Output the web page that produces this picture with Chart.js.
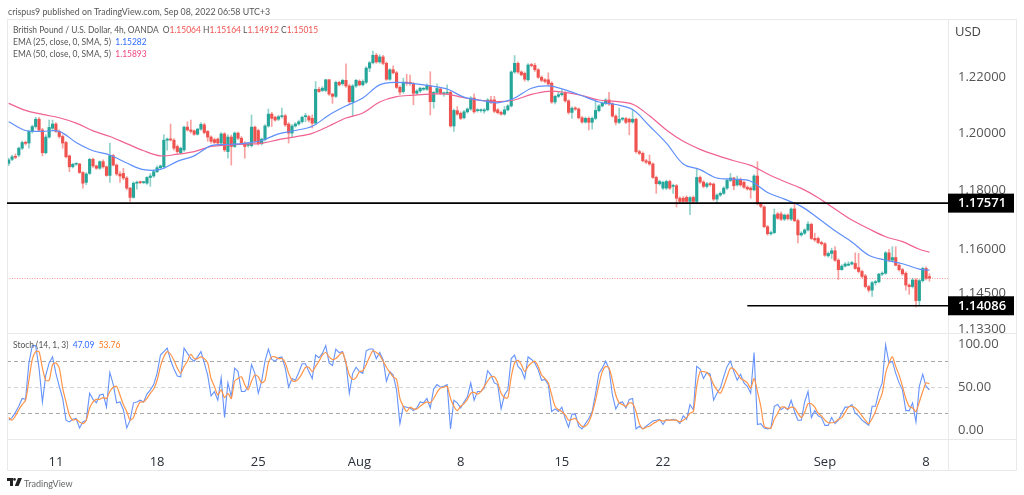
<!DOCTYPE html>
<html><head><meta charset="utf-8">
<script src="https://cdn.jsdelivr.net/npm/chart.js@4"></script>
<style>
html,body{margin:0;padding:0;background:#fff;width:1024px;height:495px;overflow:hidden}
#c{position:absolute;left:0;top:0}
.t{position:absolute;white-space:nowrap;font-family:Lato,sans-serif;color:#555;font-size:9.5px;line-height:12px;transform-origin:left center;transform:scaleX(.89)}
</style></head><body>
<canvas id="c" width="1024" height="495"></canvas>
<div class="t" style="left:8px;top:5px;font-size:9.7px;transform:scaleX(.91)">crispus9 published on TradingView.com, Sep 08, 2022 06:58 UTC+3</div>
<div class="t" style="left:13px;top:24px">British Pound / U.S. Dollar, 4h, OANDA&nbsp; O<span style="color:#ef5350">1.15064</span> H<span style="color:#ef5350">1.15164</span> L<span style="color:#ef5350">1.14912</span> C<span style="color:#ef5350">1.15015</span></div>
<div class="t" style="left:13px;top:36px">EMA (25, close, 0, SMA, 5)&nbsp; <span style="color:#2f6bff">1.15282</span></div>
<div class="t" style="left:13px;top:48px">EMA (50, close, 0, SMA, 5)&nbsp; <span style="color:#f0487f">1.15893</span></div>
<div class="t" style="left:13px;top:339px">Stoch (14, 1, 3)&nbsp; <span style="color:#2f6bff">47.09</span>&nbsp; <span style="color:#ff7a1a">53.76</span></div>
<div class="t" style="left:955px;top:23px;font-family:'Open Sans',sans-serif;font-size:13px;line-height:16px;color:#444;transform:none">USD</div>
<svg style="position:absolute;left:7px;top:478px" width="15" height="9" viewBox="0 0 15 9"><path d="M0 0h6v8H3V3H0zM7.5 0a1.4 1.4 0 1 1 0 2.8 1.4 1.4 0 0 1 0-2.8zM11 0h4l-3.4 8H7.8z" fill="#222"/></svg>
<div class="t" style="left:24px;top:477px;font-size:9.8px;color:#666;transform:scaleX(.92)">TradingView</div>
<script>
const opens=[1.1895,1.1909,1.1918,1.1924,1.1948,1.1968,1.1966,1.2007,1.2024,1.2050,
1.2012,1.1932,1.1987,1.2018,1.2033,1.2007,1.1989,1.1968,1.1921,1.1883,
1.1892,1.1893,1.1863,1.1829,1.1860,1.1909,1.1886,1.1878,1.1901,1.1883,
1.1853,1.1922,1.1889,1.1858,1.1860,1.1844,1.1809,1.1777,1.1826,1.1830,
1.1828,1.1826,1.1846,1.1851,1.1866,1.1880,1.1883,1.1976,1.1979,1.1976,
1.1954,1.1932,1.1942,1.2022,1.2012,1.2009,1.1997,1.2015,1.2030,1.2007,
1.1987,1.1978,1.1980,1.1966,1.1998,1.1936,1.1987,1.1954,1.2001,1.1983,
1.1966,1.1958,1.1957,1.2022,1.2010,1.1964,1.1978,1.2026,1.2068,1.2057,
1.2050,1.2059,1.2062,1.2033,1.2001,1.2026,1.2033,1.2041,1.2059,1.2059,
1.2053,1.2036,1.2156,1.2152,1.2152,1.2190,1.2139,1.2131,1.2181,1.2176,
1.2188,1.2168,1.2112,1.2168,1.2185,1.2172,1.2181,1.2232,1.2251,1.2278,
1.2254,1.2272,1.2249,1.2192,1.2226,1.2215,1.2163,1.2148,1.2181,1.2181,
1.2176,1.2142,1.2150,1.2156,1.2156,1.2168,1.2112,1.2145,1.2157,1.2140,
1.2142,1.2145,1.2026,1.2080,1.2071,1.2055,1.2076,1.2086,1.2125,1.2080,
1.2080,1.2079,1.2083,1.2118,1.2118,1.2083,1.2074,1.2068,1.2083,1.2097,
1.2218,1.2249,1.2218,1.2213,1.2190,1.2243,1.2242,1.2226,1.2199,1.2190,
1.2190,1.2178,1.2111,1.2131,1.2137,1.2142,1.2115,1.2074,1.2089,1.2086,
1.2055,1.2040,1.2053,1.2039,1.2053,1.2080,1.2097,1.2106,1.2118,1.2104,
1.2061,1.2039,1.2050,1.2052,1.2050,1.2040,1.2050,1.1936,1.1930,1.1904,
1.1901,1.1893,1.1846,1.1824,1.1809,1.1809,1.1832,1.1815,1.1817,1.1774,
1.1774,1.1777,1.1763,1.1777,1.1763,1.1846,1.1830,1.1815,1.1824,1.1823,
1.1771,1.1785,1.1791,1.1809,1.1836,1.1844,1.1820,1.1836,1.1829,1.1812,
1.1809,1.1803,1.1851,1.1755,1.1744,1.1676,1.1652,1.1656,1.1720,1.1720,
1.1702,1.1716,1.1702,1.1737,1.1697,1.1648,1.1654,1.1665,1.1684,1.1636,
1.1636,1.1622,1.1618,1.1577,1.1585,1.1594,1.1562,1.1530,1.1542,1.1545,
1.1549,1.1551,1.1537,1.1524,1.1509,1.1473,1.1461,1.1486,1.1489,1.1515,
1.1518,1.1587,1.1562,1.1571,1.1545,1.1530,1.1518,1.1478,1.1473,1.1495,
1.1426,1.1493,1.1534,1.15064];
const highs=[1.1913,1.1924,1.1928,1.1952,1.1973,1.1973,1.2012,1.2029,1.2057,1.2057,
1.2018,1.1995,1.2047,1.2047,1.2038,1.2012,1.1995,1.1972,1.1924,1.1895,
1.1897,1.1895,1.1866,1.1863,1.1913,1.1913,1.1889,1.1904,1.1907,1.1886,
1.1966,1.1926,1.1893,1.1866,1.1878,1.1849,1.1812,1.1831,1.1833,1.1833,
1.1833,1.1849,1.1860,1.1872,1.1886,1.1889,1.1995,1.1984,1.2033,1.1982,
1.1959,1.1952,1.2026,1.2041,1.2047,1.2012,1.2018,1.2038,1.2036,1.2010,
1.1991,1.1983,1.1984,1.2003,1.2003,1.1995,1.1994,1.2005,1.2005,1.1989,
1.1971,1.1968,1.2065,1.2026,1.2015,1.1984,1.2031,1.2086,1.2074,1.2061,
1.2064,1.2089,1.2067,1.2038,1.2031,1.2038,1.2047,1.2061,1.2071,1.2064,
1.2065,1.2184,1.2163,1.2166,1.2192,1.2192,1.2142,1.2185,1.2185,1.2192,
1.2247,1.2173,1.2173,1.2192,1.2190,1.2190,1.2237,1.2256,1.2293,1.2285,
1.2280,1.2278,1.2254,1.2230,1.2240,1.2220,1.2168,1.2196,1.2210,1.2207,
1.2181,1.2155,1.2164,1.2163,1.2176,1.2219,1.2149,1.2176,1.2163,1.2147,
1.2172,1.2149,1.2086,1.2095,1.2076,1.2081,1.2090,1.2130,1.2140,1.2088,
1.2087,1.2088,1.2123,1.2131,1.2131,1.2088,1.2079,1.2095,1.2102,1.2222,
1.2277,1.2254,1.2222,1.2218,1.2248,1.2249,1.2249,1.2230,1.2204,1.2194,
1.2215,1.2183,1.2135,1.2148,1.2154,1.2147,1.2119,1.2094,1.2094,1.2090,
1.2060,1.2058,1.2058,1.2058,1.2118,1.2102,1.2111,1.2123,1.2145,1.2109,
1.2066,1.2089,1.2057,1.2057,1.2054,1.2083,1.2054,1.1941,1.1935,1.1909,
1.1924,1.1897,1.1851,1.1837,1.1833,1.1837,1.1837,1.1823,1.1822,1.1779,
1.1780,1.1782,1.1781,1.1782,1.1878,1.1851,1.1835,1.1829,1.1829,1.1827,
1.1789,1.1796,1.1814,1.1840,1.1860,1.1847,1.1851,1.1844,1.1833,1.1817,
1.1814,1.1856,1.1901,1.1760,1.1748,1.1681,1.1661,1.1737,1.1725,1.1727,
1.1720,1.1720,1.1741,1.1760,1.1702,1.1659,1.1669,1.1694,1.1689,1.1654,
1.1641,1.1627,1.1622,1.1590,1.1603,1.1608,1.1567,1.1547,1.1554,1.1557,
1.1558,1.1587,1.1585,1.1529,1.1514,1.1477,1.1491,1.1494,1.1518,1.1523,
1.1592,1.1599,1.1608,1.1608,1.1550,1.1535,1.1523,1.1482,1.1501,1.1500,
1.1497,1.1539,1.1540,1.15164];
const lows=[1.1887,1.1904,1.1911,1.1918,1.1943,1.1959,1.1948,1.2001,1.2018,1.2007,
1.1921,1.1928,1.1983,1.2012,1.2003,1.1983,1.1948,1.1914,1.1866,1.1879,
1.1888,1.1860,1.1809,1.1821,1.1856,1.1881,1.1874,1.1874,1.1878,1.1850,
1.1829,1.1886,1.1853,1.1829,1.1838,1.1803,1.1763,1.1774,1.1805,1.1824,
1.1824,1.1822,1.1815,1.1846,1.1863,1.1876,1.1879,1.1941,1.1973,1.1941,
1.1930,1.1928,1.1937,1.2008,1.2001,1.1993,1.1994,1.2010,1.1998,1.1972,
1.1966,1.1964,1.1961,1.1961,1.1936,1.1913,1.1889,1.1950,1.1978,1.1961,
1.1913,1.1952,1.1952,1.1966,1.1959,1.1959,1.1973,1.2022,1.2024,1.2043,
1.2045,1.2054,1.2024,1.1966,1.1987,1.2022,1.2029,1.2036,1.2041,1.2040,
1.2019,1.2031,1.2145,1.2147,1.2147,1.2134,1.2106,1.2126,1.2168,1.2170,
1.2163,1.2106,1.2061,1.2163,1.2168,1.2168,1.2176,1.2219,1.2247,1.2249,
1.2249,1.2244,1.2188,1.2188,1.2211,1.2159,1.2137,1.2142,1.2170,1.2170,
1.2101,1.2138,1.2145,1.2152,1.2152,1.2065,1.2089,1.2140,1.2137,1.2131,
1.2138,1.2022,1.2007,1.2064,1.2048,1.2051,1.2071,1.2081,1.2071,1.2075,
1.2075,1.2071,1.2079,1.2105,1.2073,1.2068,1.2064,1.2064,1.2079,1.2093,
1.2213,1.2213,1.2204,1.2185,1.2185,1.2236,1.2220,1.2195,1.2183,1.2179,
1.2170,1.2106,1.2104,1.2126,1.2132,1.2110,1.2068,1.2053,1.2081,1.2051,
1.2036,1.2036,1.2012,1.2015,1.2048,1.2076,1.2093,1.2102,1.2099,1.2057,
1.2030,1.2034,1.2045,1.2034,1.1995,1.2036,1.1931,1.1925,1.1900,1.1894,
1.1888,1.1843,1.1791,1.1819,1.1804,1.1804,1.1804,1.1791,1.1744,1.1755,
1.1759,1.1759,1.1717,1.1755,1.1755,1.1825,1.1810,1.1810,1.1816,1.1766,
1.1758,1.1780,1.1787,1.1804,1.1831,1.1803,1.1816,1.1815,1.1808,1.1802,
1.1774,1.1799,1.1751,1.1741,1.1673,1.1647,1.1647,1.1652,1.1701,1.1697,
1.1697,1.1699,1.1697,1.1693,1.1621,1.1643,1.1649,1.1661,1.1632,1.1626,
1.1618,1.1613,1.1575,1.1572,1.1568,1.1558,1.1497,1.1528,1.1539,1.1543,
1.1546,1.1531,1.1519,1.1502,1.1468,1.1455,1.1440,1.1478,1.1485,1.1510,
1.1514,1.1558,1.1558,1.1543,1.1525,1.1511,1.1461,1.1447,1.1468,1.1405,
1.1409,1.1488,1.1495,1.14912];
const closes=[1.1907,1.1918,1.1916,1.1948,1.1968,1.1965,1.2007,1.2024,1.2050,1.2012,
1.1932,1.1987,1.2021,1.2033,1.2007,1.1989,1.1966,1.1918,1.1883,1.1892,
1.1894,1.1863,1.1826,1.1858,1.1909,1.1886,1.1878,1.1901,1.1883,1.1853,
1.1922,1.1889,1.1858,1.1851,1.1844,1.1809,1.1777,1.1826,1.1829,1.1828,
1.1830,1.1846,1.1851,1.1866,1.1880,1.1886,1.1976,1.1980,1.1977,1.1948,
1.1936,1.1948,1.2022,1.2012,1.2007,1.1997,1.2015,1.2032,1.2003,1.1987,
1.1972,1.1968,1.1966,1.1998,1.1942,1.1987,1.1954,1.2001,1.1983,1.1966,
1.1954,1.1964,1.2022,1.1972,1.1964,1.1980,1.2026,1.2068,1.2053,1.2047,
1.2059,1.2062,1.2030,1.2001,1.2026,1.2033,1.2041,1.2057,1.2061,1.2047,
1.2036,1.2156,1.2148,1.2160,1.2190,1.2139,1.2131,1.2181,1.2172,1.2188,
1.2168,1.2112,1.2168,1.2188,1.2172,1.2184,1.2232,1.2251,1.2278,1.2254,
1.2272,1.2249,1.2192,1.2226,1.2215,1.2163,1.2146,1.2182,1.2178,1.2176,
1.2142,1.2150,1.2160,1.2157,1.2168,1.2112,1.2145,1.2159,1.2142,1.2142,
1.2145,1.2026,1.2081,1.2068,1.2053,1.2076,1.2086,1.2125,1.2076,1.2083,
1.2082,1.2083,1.2118,1.2110,1.2078,1.2073,1.2068,1.2083,1.2097,1.2218,
1.2249,1.2218,1.2208,1.2192,1.2243,1.2241,1.2226,1.2199,1.2188,1.2184,
1.2175,1.2111,1.2131,1.2137,1.2142,1.2115,1.2074,1.2089,1.2086,1.2055,
1.2040,1.2053,1.2039,1.2053,1.2081,1.2097,1.2106,1.2118,1.2104,1.2061,
1.2039,1.2050,1.2052,1.2039,1.2040,1.2050,1.1936,1.1930,1.1904,1.1899,
1.1893,1.1846,1.1824,1.1832,1.1829,1.1832,1.1809,1.1818,1.1774,1.1763,
1.1763,1.1763,1.1776,1.1763,1.1846,1.1830,1.1815,1.1824,1.1821,1.1771,
1.1785,1.1791,1.1809,1.1836,1.1844,1.1817,1.1836,1.1820,1.1812,1.1806,
1.1803,1.1851,1.1755,1.1746,1.1676,1.1652,1.1656,1.1717,1.1705,1.1702,
1.1716,1.1704,1.1737,1.1697,1.1648,1.1654,1.1665,1.1685,1.1636,1.1631,
1.1622,1.1618,1.1579,1.1585,1.1594,1.1562,1.1530,1.1542,1.1549,1.1549,
1.1554,1.1534,1.1524,1.1507,1.1473,1.1461,1.1486,1.1489,1.1515,1.1518,
1.1587,1.1562,1.1571,1.1545,1.1530,1.1516,1.1478,1.1473,1.1495,1.1426,
1.1493,1.1534,1.1501,1.15015];
// moving averages read once every 5 bars, last reading at the final bar
const ema25Read=[1.2041,1.2010,1.2007,1.2007,1.1968,1.1939,1.1924,1.1896,1.1873,1.1874,
1.1902,1.1921,1.1957,1.1961,1.1965,1.1975,1.1998,1.2010,1.2025,1.2065,
1.2097,1.2125,1.2172,1.2181,1.2176,1.2168,1.2157,1.2128,1.2117,1.2108,
1.2125,1.2160,1.2168,1.2154,1.2133,1.2111,1.2102,1.2084,1.2026,1.1966,
1.1893,1.1873,1.1844,1.1840,1.1833,1.1794,1.1771,1.1746,1.1705,1.1662,
1.1624,1.1579,1.1562,1.1550,1.1532,1.15282];
const ema50Read=[1.2106,1.2081,1.2067,1.2055,1.2036,1.2009,1.1989,1.1964,1.1939,1.1921,
1.1927,1.1936,1.1954,1.1959,1.1962,1.1965,1.1978,1.1988,1.2000,1.2026,
1.2054,1.2072,1.2111,1.2130,1.2135,1.2139,1.2139,1.2126,1.2117,1.2112,
1.2118,1.2138,1.2149,1.2145,1.2134,1.2118,1.2113,1.2103,1.2062,1.2012,
1.1972,1.1944,1.1923,1.1904,1.1888,1.1858,1.1832,1.1808,1.1776,1.1737,
1.1699,1.1669,1.1642,1.1625,1.1599,1.15893];
const stochK=[12,15,21,28,37,36,78,98,98,72,33,64,78,85,66,51,37,12,10,13,14,3,10,12,43,36,32,41,42,27,67,53,32,33,24,3,12,32,33,35,33,42,47,53,66,87,91,95,81,71,63,62,95,89,83,80,85,91,78,64,40,45,35,61,15,55,39,72,68,45,45,51,76,66,43,57,80,94,82,80,84,85,72,50,60,58,67,77,77,68,60,87,84,89,98,78,75,94,90,
91,78,43,66,73,68,66,92,94,94,83,90,82,57,68,64,47,8,28,27,26,23,26,33,32,37,26,48,53,50,51,53,2,35,32,26,33,39,55,35,45,45,49,69,64,55,53,25,41,47,83,87,74,70,60,85,82,78,70,58,59,53,22,25,22,27,14,4,19,19,5,2,8,14,22,43,66,72,80,71,41,25,32,33,26,36,37,2,5,2,5,8,11,12,13,7,13,12,13,12,8,
17,13,30,24,74,71,60,67,65,35,43,49,62,74,80,68,58,65,55,51,43,90,7,8,3,2,3,28,30,24,27,24,35,22,12,12,33,45,15,23,17,15,6,6,15,8,12,20,27,27,30,20,17,12,9,6,28,28,45,55,99,78,80,66,55,47,23,23,32,10,51,65,51,47.09];
const stochD=[15,12,17,24,30,35,58,82,91,91,72,58,58,76,78,72,49,33,18,12,13,10,8,12,26,33,36,36,38,37,45,50,51,41,30,22,12,15,26,33,33,37,43,48,58,74,85,91,88,81,72,66,74,80,88,83,83,85,83,78,60,51,41,47,38,43,37,57,60,62,53,47,57,64,62,55,58,78,85,85,83,83,78,66,58,57,60,66,73,73,68,74,80,87,90,85,82,83,87,
90,78,64,59,61,68,69,76,85,92,90,87,80,73,67,62,59,37,28,22,27,25,25,28,31,33,32,37,44,49,50,51,37,28,23,28,31,36,43,44,42,45,51,57,62,62,55,43,38,38,62,78,81,76,68,74,78,80,74,64,60,55,41,28,24,22,18,12,13,14,9,5,5,10,20,35,53,68,74,72,58,41,32,30,28,32,31,22,8,2,4,5,8,10,12,11,12,12,12,12,10,
12,15,20,22,51,68,68,67,62,53,47,43,51,62,72,71,66,60,58,55,49,60,45,28,5,3,3,13,20,27,27,25,27,26,20,15,21,31,31,27,20,17,12,9,9,10,13,15,21,27,28,26,22,17,12,8,14,22,33,43,66,78,85,74,64,51,37,28,26,22,33,45,55,53.76];
const readStep=5;
const priceTicks=[1.22,1.20,1.18,1.16,1.145,1.133];
const stochTicks=[100,50,0];
const stochBands=[80,50,20];
const levelMajor=1.17571, levelSupport=1.14086, lastPrice=1.15015;
const supportStartBar=219;
const dateLabels=['11','18','25','Aug','8','15','22','Sep','8'];
const dateBars=[14,44,74,104,134,164,194,242,272];
const boldDates=['Aug','Sep'];
const barCount=279;

const categories=Array.from({length:barCount},(_,i)=>{const k=dateBars.indexOf(i);return k>=0?dateLabels[k]:'';});
const lastBar=opens.length-1;
const sparse=(read)=>{const a=new Array(opens.length).fill(null);read.forEach((v,k)=>{a[k===read.length-1?lastBar:k*readStep]=v;});return a;};
const GREEN='#26a69a',RED='#ef5350';
const up=opens.map((o,i)=>closes[i]>=o);
const FONT='"Open Sans",sans-serif';

const framePlugin={id:'frame',
 beforeDatasetsDraw(ch){
  const g=ch.ctx,a=ch.chartArea,y=ch.scales.y,s=ch.scales.y2;
  g.save();
  stochBands.forEach(v=>{const p=Math.round(s.getPixelForValue(v))+.5;
   g.strokeStyle=v===50?'#d4d4d4':'#a8a8a8';g.lineWidth=1;g.setLineDash([4,3]);
   g.beginPath();g.moveTo(a.left,p);g.lineTo(a.right,p);g.stroke();});
  const lp=Math.round(y.getPixelForValue(lastPrice))+.5;
  g.strokeStyle='rgba(239,83,80,.6)';g.setLineDash([1,1.5]);
  g.beginPath();g.moveTo(a.left,lp);g.lineTo(a.right,lp);g.stroke();
  g.restore();
 },
 afterDraw(ch){
  const g=ch.ctx,a=ch.chartArea,y=ch.scales.y,x=ch.scales.x,right=1017;
  g.save();
  g.strokeStyle='#e9e9ec';g.lineWidth=1;
  const top=19.5,bottom=470.5,div=a.right+.5,mid=Math.round(y.bottom)+.5,ax=Math.round(ch.scales.y2.bottom)+.5;
  [[7.5,top,right-.5,top],[7.5,bottom,right-.5,bottom],[7.5,top,7.5,bottom],[right-.5,top,right-.5,bottom],[div,top,div,bottom],[7.5,mid,right-.5,mid],[7.5,ax,right-.5,ax]]
   .forEach(l=>{g.beginPath();g.moveTo(l[0],l[1]);g.lineTo(l[2],l[3]);g.stroke();});
  g.strokeStyle='#000';
  const l1=y.getPixelForValue(levelMajor),l2=y.getPixelForValue(levelSupport);
  g.lineWidth=1.6;g.beginPath();g.moveTo(a.left,l1);g.lineTo(a.right,l1);g.stroke();
  g.lineWidth=1.3;g.beginPath();g.moveTo(x.getPixelForValue(supportStartBar),l2);g.lineTo(a.right,l2);g.stroke();
  [[levelMajor,l1],[levelSupport,l2]].forEach(([v,p])=>{
   g.fillStyle='#000';g.fillRect(a.right,p-9.5,66,19);
   g.fillStyle='#fff';g.font='600 13px '+FONT;g.textBaseline='middle';g.textAlign='left';
   g.fillText(v.toFixed(5),a.right+10,p+.5);});
  g.restore();
 }};

new Chart(document.getElementById('c'),{
 type:'bar',
 plugins:[framePlugin],
 data:{labels:categories,datasets:[
  {type:'line',data:sparse(ema25Read),yAxisID:'y',borderColor:'#5f8ffb',borderWidth:1.2,pointRadius:0,spanGaps:true,tension:.35,order:0},
  {type:'line',data:sparse(ema50Read),yAxisID:'y',borderColor:'#f0628f',borderWidth:1.2,pointRadius:0,spanGaps:true,tension:.35,order:0},
  {type:'line',data:stochK,yAxisID:'y2',borderColor:'#6593fb',borderWidth:1.1,pointRadius:0,tension:0,order:0},
  {type:'line',data:stochD,yAxisID:'y2',borderColor:'#ff9448',borderWidth:1.2,pointRadius:0,tension:.25,order:-1},
  {data:opens.map((o,i)=>[o,closes[i]]),yAxisID:'y',grouped:false,barThickness:2.5,minBarLength:1,
   backgroundColor:up.map(u=>u?GREEN:RED),order:1},
  {data:lows.map((l,i)=>[l,highs[i]]),yAxisID:'y',grouped:false,barThickness:1,
   backgroundColor:up.map(u=>u?'rgba(38,166,154,.5)':'rgba(239,83,80,.55)'),order:2}
 ]},
 options:{responsive:false,animation:false,devicePixelRatio:1,
  layout:{padding:{left:7,top:19,right:7,bottom:25}},
  plugins:{legend:{display:false},tooltip:{enabled:false}},
  scales:{
   x:{type:'category',offset:true,grid:{display:false},border:{display:false},
    afterFit(s){s.height=31;},
    ticks:{autoSkip:false,maxRotation:0,minRotation:0,padding:7,color:'#2a2e39',
     font:c=>({family:FONT,size:13,weight:boldDates.includes(categories[c.index])?'600':'400'}),
     callback:(v,i)=>categories[i]||null}},
   y:{type:'logarithmic',position:'right',stack:'p',stackWeight:314,min:1.13179,max:1.24092,
    grid:{display:false,drawTicks:false},border:{display:false},
    afterFit(s){s.width=69;},
    afterBuildTicks(s){s.ticks=priceTicks.map(v=>({value:v}));},
    ticks:{padding:10,autoSkip:false,color:'#555',font:{family:FONT,size:13},callback:v=>v.toFixed(5)}},
   y2:{position:'right',stack:'p',stackWeight:106,min:-9.7,max:112.5,
    grid:{display:false,drawTicks:false},border:{display:false},
    afterFit(s){s.width=69;},
    afterBuildTicks(s){s.ticks=stochTicks.map(v=>({value:v}));},
    ticks:{padding:10,autoSkip:false,color:'#555',font:{family:FONT,size:13},callback:v=>v.toFixed(2)}}
  }}
});
</script>
</body></html>
